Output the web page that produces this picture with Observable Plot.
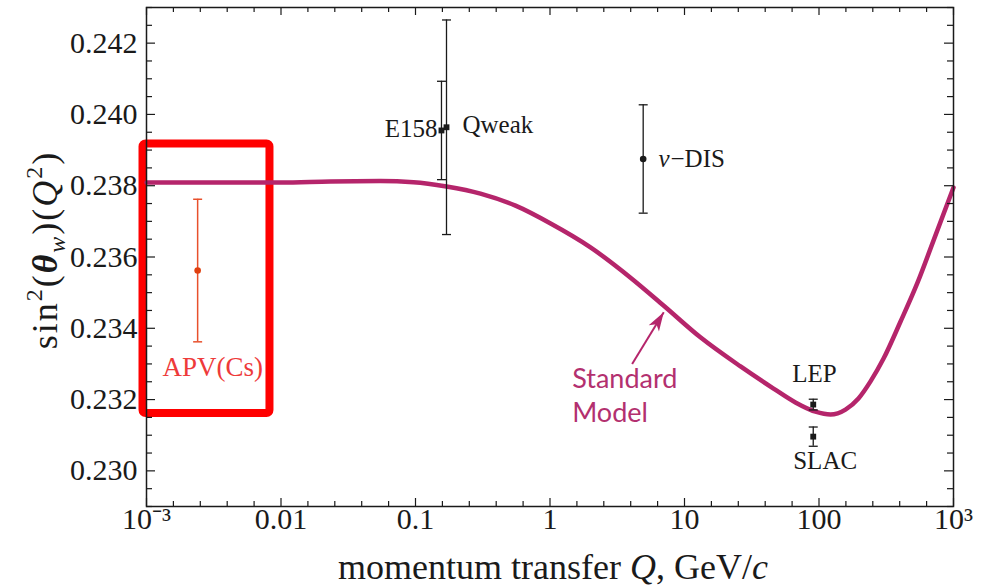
<!DOCTYPE html>
<html><head><meta charset="utf-8">
<script src="https://cdn.jsdelivr.net/npm/d3@7"></script>
<script src="https://cdn.jsdelivr.net/npm/@observablehq/plot@0.6"></script>
<style>
html,body{margin:0;padding:0;background:#fff;}
#chart svg{display:block;}
</style></head><body><div id="chart"></div>
<script>
// Standard Model running of sin^2(theta_W)
const smQ = [0.001, 0.01, 0.0233, 0.055, 0.0966, 0.17, 0.304, 0.554, 1.01, 2.0, 3.97, 6.98, 13.2, 26.1, 45.9, 66.8, 94.2, 121.8, 157.4, 196.6, 241.6, 302, 404, 540, 710, 1000];
const smS = [0.23809, 0.23809, 0.23812, 0.23813, 0.23810, 0.23798, 0.23778, 0.23744, 0.23694, 0.23627, 0.23542, 0.23464, 0.23374, 0.23293, 0.23231, 0.23192, 0.23166, 0.23158, 0.23172, 0.23203, 0.23251, 0.23315, 0.23419, 0.23528, 0.23646, 0.23795];

// Measurements
const expNames = ["APV(Cs)", "E158", "Qweak", "ν-DIS", "LEP", "SLAC"];
const expQ = [0.0024, 0.156, 0.17, 4.93, 90.6, 90.6];
const expS = [0.23562, 0.23955, 0.23964, 0.23875, 0.23186, 0.23096];
const expErr = [0.00200, 0.00138, 0.00301, 0.00152, 0.00015, 0.00027];

// Annotation labels
const labelText = ["E158", "Qweak", "−DIS", "LEP", "SLAC", "APV(Cs)", "Standard", "Model", "ν"];
const labelQ = [0.146, 0.2235, 6.41, 63.2, 64.3, 0.001315, 1.462, 1.462, 6.41];
const labelS = [0.23958, 0.23969, 0.23876, 0.23273, 0.23027, 0.23290, 0.23256, 0.23161, 0.23876];

// Ticks
const xMajor = [1e-3, 1e-2, 1e-1, 1, 10, 100, 1000];
const xTickLabels = ["10⁻³", "0.01", "0.1", "1", "10", "100", "10³"];
const yMajor = [0.230, 0.232, 0.234, 0.236, 0.238, 0.240, 0.242];
const yTickLabels = ["0.230", "0.232", "0.234", "0.236", "0.238", "0.240", "0.242"];

// Highlight box around APV(Cs) and arrow to the curve
const boxQ = [0.000942, 0.00828];
const boxS = [0.23161, 0.23917];
const arrowQ = [4.08, 7.01];
const arrowS = [0.23300, 0.23445];

const W = 986, H = 587, mL = 146, mR = 33, mT = 7, mB = 81;
const fw = W - mL - mR, fh = H - mT - mB;

const xMinor = [];
for (let d = -3; d < 3; d++) for (let k = 1; k < 5; k++) xMinor.push(Math.pow(10, d + 0.2 * k));
const yAll = d3.range(0, 29).map(i => +(0.229 + i * 0.0005).toFixed(4));
const yMinor = yAll.filter(v => !yMajor.some(m => Math.abs(m - v) < 1e-7));

const idx = d3.range(expNames.length);
const blackIdx = idx.filter(i => i > 0);
const sm = smQ.map((q, i) => ({q, s: smS[i]}));
const capSym = {draw(ctx) { ctx.moveTo(-4.5, 0); ctx.lineTo(4.5, 0); }};
const headSym = {draw(ctx) { ctx.moveTo(0, 0); ctx.lineTo(6, 19); ctx.lineTo(0, 14); ctx.lineTo(-6, 19); ctx.closePath(); }};

const ink = "#1a1a1a", smColor = "#b5256b", apvColor = "#e8502c";
const serif = "Liberation Serif";

const svg = Plot.plot({
  width: W, height: H,
  marginLeft: mL, marginRight: mR, marginTop: mT, marginBottom: mB,
  x: {type: "log", domain: [1e-3, 1e3], axis: null},
  y: {domain: [0.229, 0.243], axis: null},
  style: {fontFamily: serif, background: "#fff", color: ink},
  marks: [
    // highlight box
    Plot.rect([0], {x1: () => boxQ[0], x2: () => boxQ[1], y1: () => boxS[0], y2: () => boxS[1], fill: "none", stroke: "#ff0000", strokeWidth: 8, rx: 3}),
    // SM curve
    Plot.line(sm, {x: "q", y: "s", stroke: smColor, strokeWidth: 4.5, curve: "monotone-x"}),
    // error bars
    Plot.ruleX(blackIdx, {x: i => expQ[i], y1: i => expS[i] - expErr[i], y2: i => expS[i] + expErr[i], stroke: ink, strokeWidth: 1.3}),
    Plot.dot(blackIdx, {x: i => expQ[i], y: i => expS[i] - expErr[i], symbol: capSym, stroke: ink, strokeWidth: 1.3, fill: "none"}),
    Plot.dot(blackIdx, {x: i => expQ[i], y: i => expS[i] + expErr[i], symbol: capSym, stroke: ink, strokeWidth: 1.3, fill: "none"}),
    Plot.dot(blackIdx, {x: i => expQ[i], y: i => expS[i], r: 3.3, fill: ink, stroke: "none", symbol: i => (i === 3 ? "circle" : "square")}),
    Plot.ruleX([0], {x: i => expQ[i], y1: i => expS[i] - expErr[i], y2: i => expS[i] + expErr[i], stroke: apvColor, strokeWidth: 1.5}),
    Plot.dot([0], {x: i => expQ[i], y: i => expS[i] - expErr[i], symbol: capSym, stroke: apvColor, strokeWidth: 1.5, fill: "none"}),
    Plot.dot([0], {x: i => expQ[i], y: i => expS[i] + expErr[i], symbol: capSym, stroke: apvColor, strokeWidth: 1.5, fill: "none"}),
    Plot.dot([0], {x: i => expQ[i], y: i => expS[i], r: 3.3, fill: "#e0400f", stroke: "none"}),
    // arrow
    Plot.link([0], {x1: () => arrowQ[0], y1: () => arrowS[0], x2: () => arrowQ[1], y2: () => arrowS[1], stroke: smColor, strokeWidth: 2}),
    Plot.dot([0], {x: () => arrowQ[1], y: () => arrowS[1], symbol: headSym, fill: smColor, stroke: "none", rotate: 31.5}),
    // labels
    Plot.text([0], {x: i => labelQ[i], y: i => labelS[i], text: i => labelText[i], textAnchor: "end", fontFamily: serif, fontSize: 25, fill: ink}),
    Plot.text([1, 3, 4], {x: i => labelQ[i], y: i => labelS[i], text: i => labelText[i], textAnchor: "start", fontFamily: serif, fontSize: 25, fill: ink}),
    Plot.text([2], {x: i => labelQ[i], y: i => labelS[i], text: i => labelText[i], textAnchor: "start", dx: 12, fontFamily: serif, fontSize: 25, fill: ink}),
    Plot.text([8], {x: i => labelQ[i], y: i => labelS[i], text: i => labelText[i], textAnchor: "start", fontFamily: serif, fontStyle: "italic", fontSize: 25, fill: ink}),
    Plot.text([5], {x: i => labelQ[i], y: i => labelS[i], text: i => labelText[i], textAnchor: "start", fontFamily: serif, fontSize: 27, fill: "#ee3a3a"}),
    Plot.text([6, 7], {x: i => labelQ[i], y: i => labelS[i], text: i => labelText[i], textAnchor: "start", fontSize: 27, fontFamily: "Lato", fill: "#b3306f"}),
    // frame ticks
    Plot.tickY(yMajor, {y: d => d, insetRight: fw - 9, stroke: ink, strokeWidth: 1.2}),
    Plot.tickY(yMinor, {y: d => d, insetRight: fw - 6, stroke: ink, strokeWidth: 1.2}),
    Plot.tickY(yMajor, {y: d => d, insetLeft: fw - 9, stroke: ink, strokeWidth: 1.2}),
    Plot.tickY(yMinor, {y: d => d, insetLeft: fw - 6, stroke: ink, strokeWidth: 1.2}),
    Plot.tickX(xMajor, {x: d => d, insetTop: fh - 8, stroke: ink, strokeWidth: 1.2}),
    Plot.tickX(xMinor, {x: d => d, insetTop: fh - 5, stroke: ink, strokeWidth: 1.2}),
    Plot.tickX(xMajor, {x: d => d, insetBottom: fh - 8, stroke: ink, strokeWidth: 1.2}),
    Plot.tickX(xMinor, {x: d => d, insetBottom: fh - 5, stroke: ink, strokeWidth: 1.2}),
    Plot.frame({stroke: ink, strokeWidth: 1.5}),
    // tick labels
    Plot.text(xMajor, {x: d => d, frameAnchor: "bottom", dy: 22, text: (d, i) => xTickLabels[i], fontFamily: serif, fontSize: 30, fill: ink}),
    Plot.text(yMajor, {y: d => d, frameAnchor: "left", dx: -9, textAnchor: "end", text: (d, i) => yTickLabels[i], fontFamily: serif, fontSize: 30, fill: ink})
  ]
});

const s = d3.select(svg);
// y axis label
const yl = s.append("text")
  .attr("transform", "translate(57,250) rotate(-90)")
  .attr("text-anchor", "middle")
  .attr("font-family", serif).attr("font-size", 36).attr("fill", ink)
  .attr("letter-spacing", 2);
yl.append("tspan").text("sin");
yl.append("tspan").attr("font-size", 24).attr("dy", -15).text("2");
yl.append("tspan").attr("dy", 15).text("(");
yl.append("tspan").attr("font-weight", "bold").attr("font-style", "italic").text("θ");
yl.append("tspan").attr("font-style", "italic").attr("font-size", 24).attr("dy", 8).text("w");
yl.append("tspan").attr("dy", -8).text(")(");
yl.append("tspan").attr("font-style", "italic").text("Q");
yl.append("tspan").attr("font-size", 24).attr("dy", -15).text("2");
yl.append("tspan").attr("dy", 15).text(")");
// x axis label
const xl = s.append("text")
  .attr("x", 553).attr("y", 579)
  .attr("text-anchor", "middle")
  .attr("font-family", serif).attr("font-size", 36).attr("fill", ink);
xl.append("tspan").text("momentum transfer ");
xl.append("tspan").attr("font-style", "italic").text("Q");
xl.append("tspan").text(", GeV/");
xl.append("tspan").attr("font-style", "italic").text("c");

document.getElementById("chart").append(svg);
</script>
</body></html>
